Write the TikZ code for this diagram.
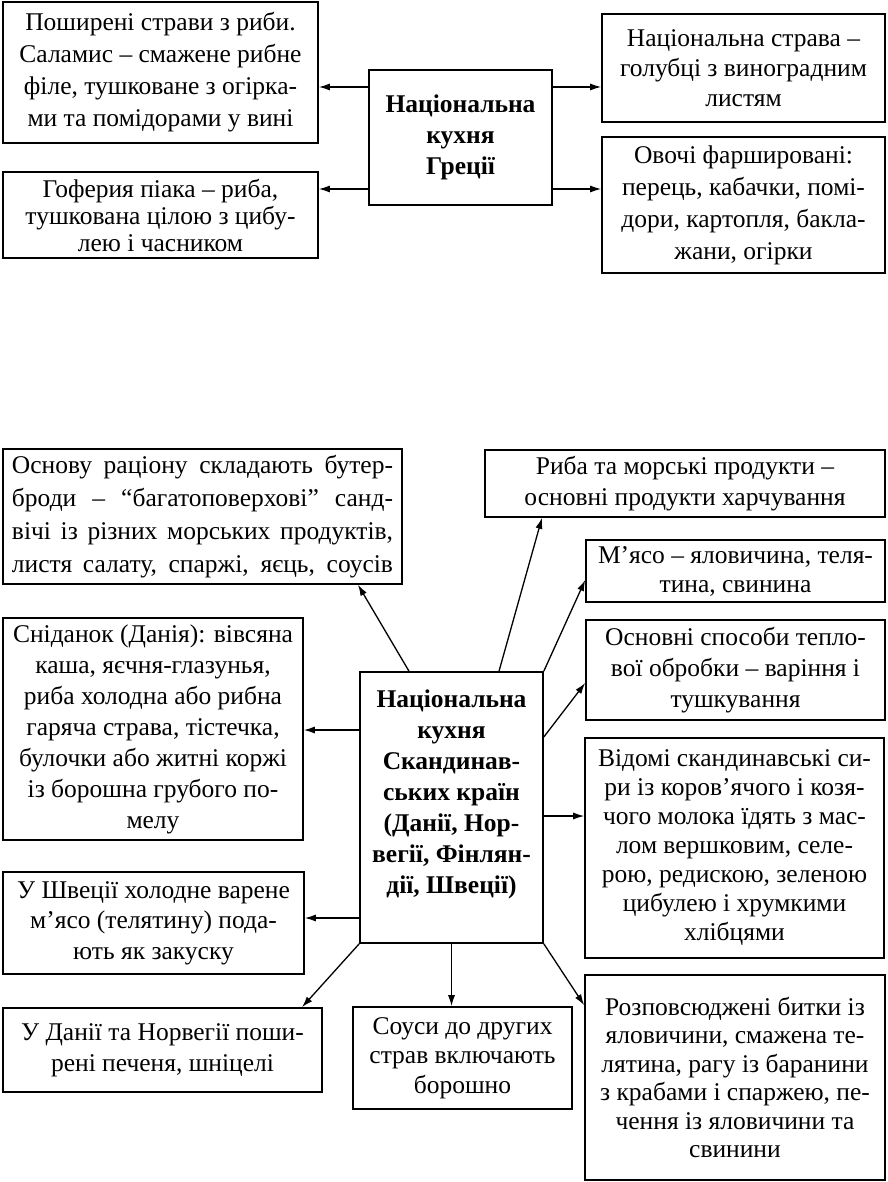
\documentclass[tikz,border=0pt]{standalone}
\usepackage{fontspec}
\setmainfont{Liberation Serif}
\usetikzlibrary{arrows.meta}
\tikzset{
  box/.style={draw, line width=1.6pt, rectangle, inner sep=0pt, align=center,
    font={\fontsize{25.5}{31}\selectfont}},
  lsk/.style={font={\fontsize{25.5}{#1}\selectfont}},
  title/.style={box, font={\fontsize{25.5}{31}\selectfont\bfseries}},
  arr/.style={line width=1.3pt, -{Latex[length=11pt,width=7pt]}}
}
\newcommand{\jline}[1]{\makebox[381pt][s]{#1}}
\begin{document}
\begin{tikzpicture}[x=1pt,y=-1pt]
\useasboundingbox[fill=white] (0,0) rectangle (887,1182);
% Greece
\node[title, minimum width=183pt, minimum height=135pt] (greek) at (460.5,137.5) {Національна\\кухня\\Греції};
\node[box, lsk=32, minimum width=315pt, minimum height=141pt] (A) at (160.5,72.5) {Поширені страви з риби.\\Саламис – смажене рибне\\філе, тушковане з огірка-\\ми та помідорами у вині};
\node[box, lsk=27, minimum width=315pt, minimum height=86pt] (B) at (160.5,215) {Гоферия піака – риба,\\тушкована цілою з цибу-\\лею і часником};
\node[box, lsk=30, minimum width=283pt, minimum height=108pt] (C) at (743.5,68) {Національна страва –\\голубці з виноградним\\листям};
\node[box, lsk=32, minimum width=283pt, minimum height=136pt] (D) at (743.5,205) {Овочі фаршировані:\\перець, кабачки, помі-\\дори, картопля, бакла-\\жани, огірки};
\draw[arr] ([yshift=50.5pt]greek.west) -- ([yshift=50.5pt]greek.west -| A.east);
\draw[arr] ([yshift=-51.5pt]greek.west) -- ([yshift=-51.5pt]greek.west -| B.east);
\draw[arr] ([yshift=50.5pt]greek.east) -- ([yshift=50.5pt]greek.east -| C.west);
\draw[arr] ([yshift=-51.5pt]greek.east) -- ([yshift=-51.5pt]greek.east -| D.west);
% Scandinavia
\node[title, minimum width=183pt, minimum height=271pt] (S) at (451.5,807.5) {Національна\\кухня\\Скандинав-\\ських країн\\(Данії, Нор-\\вегії, Фінлян-\\дії, Швеції)\\[-8pt]\strut};
\node[box, lsk=33, minimum width=399pt, minimum height=135pt] (E) at (202.5,516.5) {\jline{Основу раціону складають бутер-}\\\jline{броди – “багатоповерхові” санд-}\\\jline{вічі із різних морських продуктів,}\\\jline{листя салату, спаржі, яєць, соусів}};
\node[box, minimum width=300pt, minimum height=222pt] (F) at (153,729) {Сніданок (Данія): вівсяна\\каша, яєчня-глазунья,\\риба холодна або рибна\\гаряча страва, тістечка,\\булочки або житні коржі\\із борошна грубого по-\\мелу};
\node[box, lsk=30.5, minimum width=301pt, minimum height=102pt] (G) at (153.5,923) {У Швеції холодне варене\\м’ясо (телятину) пода-\\ють як закуску};
\node[box, minimum width=319pt, minimum height=84pt] (H) at (162.5,1050) {У Данії та Норвегії поши-\\рені печеня, шніцелі};
\node[box, lsk=29.5, minimum width=219pt, minimum height=102pt] (I) at (462.5,1058) {Соуси до других\\страв включають\\борошно};
\node[box, minimum width=400pt, minimum height=67pt] (J) at (685,483.5) {Риба та морські продукти –\\основні продукти харчування};
\node[box, lsk=29, minimum width=299pt, minimum height=62pt] (K) at (735.5,571) {М’ясо – яловичина, теля-\\тина, свинина};
\node[box, minimum width=299pt, minimum height=100pt] (L) at (735.5,670) {Основні способи тепло-\\вої обробки – варіння і\\тушкування};
\node[box, lsk=29, minimum width=299pt, minimum height=220pt] (M) at (734.5,848) {Відомі скандинавські си-\\ри із коров’ячого і козя-\\чого молока їдять з мас-\\лом вершковим, селе-\\рою, редискою, зеленою\\цибулею і хрумкими\\хлібцями};
\node[box, lsk=28.5, minimum width=300pt, minimum height=205pt] (N) at (735,1077.5) {Розповсюджені битки із\\яловичини, смажена те-\\лятина, рагу із баранини\\з крабами і спаржею, пе-\\чення із яловичини та\\свинини};
\draw[arr] ([xshift=-42.5pt]S.north) -- ([xshift=155.5pt]E.south);
\draw[arr] ([xshift=47.5pt]S.north) -- ([xshift=-143pt]J.south);
\draw[arr] (S.north east) -- ([yshift=-9pt]K.west);
\draw[arr] ([yshift=70.5pt]S.east) -- ([yshift=-13pt]L.west);
\draw[arr] ([yshift=-8.5pt]S.east) -- ([yshift=-8.5pt]S.east -| M.west);
\draw[arr] (S.south east) -- ([yshift=-31pt]N.north west);
\draw[arr] (S.south) -- (S.south |- I.north);
\draw[arr] (S.south west) -- ([xshift=139.5pt]H.north);
\draw[arr] ([yshift=77.5pt]S.west) -- ([yshift=77.5pt]S.west -| F.east);
\draw[arr] ([yshift=-110.5pt]S.west) -- ([yshift=-110.5pt]S.west -| G.east);
\end{tikzpicture}
\end{document}
